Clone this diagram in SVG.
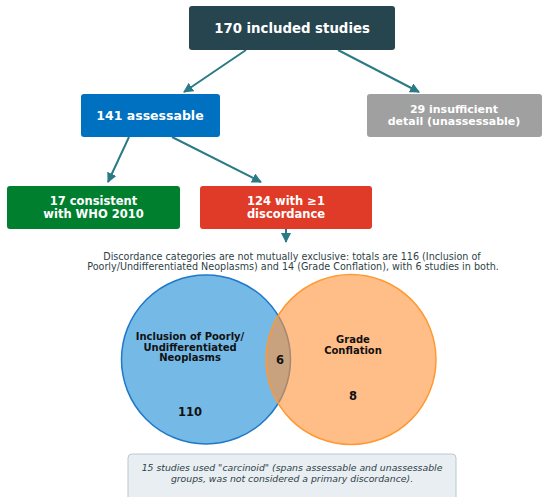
<svg xmlns="http://www.w3.org/2000/svg" width="550" height="497" viewBox="0 0 550 497">
<defs>
<style>
.bx{stroke:none}
.wt{fill:#fff;font-family:"DejaVu Sans",sans-serif;font-weight:bold;text-anchor:middle}
.cn{stroke:#2a7b86;stroke-width:2;fill:none;marker-end:url(#ah)}
.vl{fill:#111;font-family:"DejaVu Sans",sans-serif;font-weight:bold;text-anchor:middle}
.nt{fill:#2f3f47;font-family:"DejaVu Sans",sans-serif;text-anchor:middle}
</style>
<marker id="ah" viewBox="0 0 10 10" refX="9" refY="5" markerWidth="5" markerHeight="5" orient="auto" markerUnits="strokeWidth">
<path d="M0,0 L10,5 L0,10 z" fill="#2a7b86"/>
</marker>
</defs>
<rect width="550" height="497" fill="#fff"/>
<g id="connectors">
<line class="cn" x1="246" y1="50" x2="184" y2="92"/>
<line class="cn" x1="338" y1="50" x2="419" y2="92"/>
<line class="cn" x1="129" y1="137" x2="108" y2="182"/>
<line class="cn" x1="172" y1="137" x2="261" y2="182"/>
<line class="cn" x1="286" y1="229" x2="286" y2="242"/>
</g>
<g id="n170">
<rect class="bx" x="189" y="6" width="206" height="44" rx="3" fill="#27454f"/>
<text class="wt" x="292" y="33" font-size="13.3">170 included studies</text>
</g>
<g id="n141">
<rect class="bx" x="81" y="94" width="139" height="43" rx="3" fill="#0070c0"/>
<text class="wt" x="150" y="120" font-size="12.5">141 assessable</text>
</g>
<g id="n29">
<rect class="bx" x="367" y="94" width="175" height="43" rx="3" fill="#a0a0a0"/>
<text class="wt" x="454" y="112.5" font-size="11">29 insufficient</text>
<text class="wt" x="454" y="125" font-size="11">detail (unassessable)</text>
</g>
<g id="n17">
<rect class="bx" x="7" y="186" width="173" height="43" rx="3" fill="#007f2f"/>
<text class="wt" x="93.5" y="204.5" font-size="11.5">17 consistent</text>
<text class="wt" x="93.5" y="217.5" font-size="11.5">with WHO 2010</text>
</g>
<g id="n124">
<rect class="bx" x="200" y="186" width="172" height="43" rx="3" fill="#e03a28"/>
<text class="wt" x="286" y="204.5" font-size="11.5">124 with ≥1</text>
<text class="wt" x="286" y="217.5" font-size="11.5">discordance</text>
</g>
<g id="note1">
<text class="nt" x="292" y="259.5" font-size="9.6">Discordance categories are not mutually exclusive: totals are 116 (Inclusion of</text>
<text class="nt" x="293" y="270" font-size="9.6">Poorly/Undifferentiated Neoplasms) and 14 (Grade Conflation), with 6 studies in both.</text>
</g>
<g id="venn">
<circle cx="206" cy="359.5" r="84.5" fill="#3498db" fill-opacity="0.68" stroke="#1f78c8" stroke-width="1.5"/>
<circle cx="351" cy="359.5" r="85" fill="#ff9339" fill-opacity="0.6" stroke="#ff9933" stroke-width="1.5"/>
<text class="vl" x="190" y="340" font-size="10">Inclusion of Poorly/</text>
<text class="vl" x="190" y="350.5" font-size="10">Undifferentiated</text>
<text class="vl" x="190" y="361" font-size="10">Neoplasms</text>
<text class="vl" x="353" y="343" font-size="10">Grade</text>
<text class="vl" x="353" y="354" font-size="10">Conflation</text>
<text class="vl" x="280" y="363.5" font-size="11.5">6</text>
<text class="vl" x="353" y="399.5" font-size="11.5">8</text>
<text class="vl" x="190" y="416" font-size="11.5">110</text>
</g>
<g id="note2">
<rect x="128" y="454" width="328" height="50" rx="4" fill="#e8eef2" stroke="#b9c9d1" stroke-width="1"/>
<text class="nt" x="292" y="471" font-size="9.3" font-style="italic">15 studies used "carcinoid" (spans assessable and unassessable</text>
<text class="nt" x="292" y="481.5" font-size="9.3" font-style="italic">groups, was not considered a primary discordance).</text>
</g>
</svg>
